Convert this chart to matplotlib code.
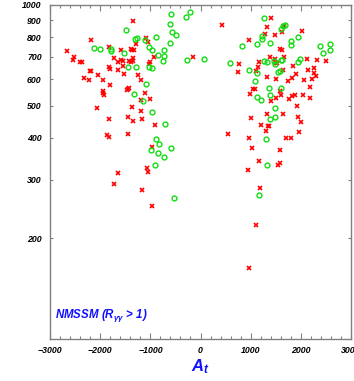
import matplotlib
matplotlib.use("Agg")
import matplotlib.pyplot as plt
from matplotlib.ticker import MultipleLocator, FixedLocator, NullLocator

plt.rcParams['font.family'] = ['Liberation Sans', 'DejaVu Sans']
plt.rcParams['mathtext.fontset'] = 'custom'
plt.rcParams['mathtext.rm'] = 'Liberation Sans:bold:italic'
plt.rcParams['mathtext.it'] = 'Liberation Sans:bold:italic'
plt.rcParams['mathtext.bf'] = 'Liberation Sans:bold:italic'

# red crosses: A_t, mass
red_at = [-2660, -2530, -2540, -2410, -2365, -2185, -2210, -2175, -2325, -2215,
          -2040, -1950, -1940, -1940, -1930, -2060, -1815, -1795, -1825, -1725,
          -1650, -1640, -1825, -1800, -1575, -1550, -1590, -1550, -1530, -1430,
          -1395, -1350, -1340, -1390, -1360, -1330, -1280, -1340, -1450, -1460,
          -1430, -1240, -1195, -1110, -1180, -1370, -1195, -1450, -1340, -1175,
          -1015, -915, -1080, -1050, -1010, -1020, -930, -155,
          -1870, -1825, -1440, -975, -1070, -1055, -1635, -1725, -1160, -970,
          430, 1415, 1330, 1290, 1495, 975, 1625, 1660, 2020, 1580,
          1625, 1395, 1490, 1500, 1530, 1660, 1160, 765, 745, 1140,
          1110, 1330, 1500, 1635, 1835, 1905, 2115, 2150, 2315, 2505,
          2270, 2265, 2305, 2215, 2060, 1815, 1740, 2185, 1055, 1090,
          995, 1575, 1610, 1500, 1760, 1825, 1885, 2050, 2185, 1410,
          1920, 1640, 1335, 1010, 1940, 2005, 1210, 1340, 1370, 1315,
          545, 975, 1705, 1805, 1965, 1030, 1590, 1170, 1575, 1540,
          950, 1190, 1100, 960]
red_m = [729, 701, 684, 674, 674, 786, 636, 636, 606, 598,
         619, 598, 553, 546, 538, 493, 456, 576, 750, 696,
         677, 641, 650, 643, 685, 682, 731, 657, 623, 682,
         676, 693, 679, 739, 734, 734, 763, 896, 560, 555,
         563, 619, 598, 547, 520, 496, 483, 463, 450, 455,
         523, 436, 795, 777, 677, 667, 699, 698,
         409, 402, 412, 377, 325, 316, 313, 292, 279, 250,
         869, 912, 858, 819, 812, 784, 830, 863, 836, 740,
         734, 698, 688, 669, 669, 698, 676, 665, 629, 652,
         636, 608, 600, 639, 657, 622, 689, 638, 685, 681,
         648, 627, 613, 601, 597, 605, 593, 569, 561, 560,
         542, 554, 539, 528, 523, 534, 538, 538, 526, 517,
         498, 471, 471, 458, 463, 445, 436, 434, 434, 419,
         411, 400, 400, 400, 417, 374, 369, 340, 336, 331,
         320, 284, 219, 163]

# green circles: A_t, mass
green_at = [-1495, -2130, -2010, -1785, -1775, -1515, -1455, -1290, -1310, -1275,
            -1110, -1030, -970, -890, -855, -735, -725, -755, -1020, -960,
            -610, -565, -485, -605, -580, -285, -200, -275, -1080, -1330,
            -1150, -960, -710, -890, -830, -980, -850, -580, -730, -900,
            -520,
            1270, 1610, 1680, 1640, 1235, 1235, 1950, 1130, 1380, 830,
            1795, 1805, 2375, 2575, 2590, 2445, 75, 580, 1260, 1330,
            1460, 1480, 1595, 1620, 1990, 1940, 975, 1135, 1550, 1575,
            1090, 1370, 1595, 1130, 1200, 1395, 1490, 1395, 1495, 1315,
            1320, 1175]
green_m = [840, 744, 739, 740, 729, 717, 653, 653, 791, 798,
           786, 749, 733, 800, 709, 733, 704, 682, 650, 647,
           768, 830, 815, 879, 940, 919, 951, 685, 582, 543,
           517, 477, 439, 396, 384, 368, 360, 373, 350, 332,
           264,
           914, 846, 869, 863, 810, 791, 802, 766, 771, 755,
           782, 757, 752, 763, 735, 717, 688, 669, 681, 674,
           679, 666, 686, 684, 691, 676, 641, 627, 630, 636,
           594, 565, 566, 532, 520, 536, 492, 456, 463, 396,
           331, 270]

y_ticks = [200, 300, 400, 500, 600, 700, 800, 900, 1000]

fig = plt.figure(figsize=(3.54, 3.81), dpi=100)
ax = fig.add_axes([50/354, 42/381, 301/354, 334/381])

ax.plot(red_at, red_m, linestyle='none', marker='x', color='#ff0000',
        markersize=3.0, markeredgewidth=1.2)
ax.plot(green_at, green_m, linestyle='none', marker='o', markerfacecolor='none',
        markeredgecolor='#11dd11', markersize=3.5, markeredgewidth=1.0)

ax.set_yscale('log')
ax.set_xlim(-3000, 3000)
ax.set_ylim(100, 1000)

ax.xaxis.set_major_locator(MultipleLocator(1000))
ax.xaxis.set_minor_locator(MultipleLocator(200))
ax.yaxis.set_major_locator(FixedLocator(y_ticks))
ax.yaxis.set_minor_locator(NullLocator())
ax.set_yticklabels([str(v) for v in y_ticks])

for s in ax.spines.values():
    s.set_color('#808080')
    s.set_linewidth(1.0)

ax.tick_params(axis='both', which='both', direction='in', colors='#808080',
               labelcolor='black', top=True, right=True, width=0.8)
ax.tick_params(axis='x', which='major', length=4.5, pad=5)
ax.tick_params(axis='x', which='minor', length=2.2)
ax.tick_params(axis='y', which='major', length=2.5, pad=6)

for lab in ax.get_xticklabels() + ax.get_yticklabels():
    lab.set_fontsize(6.3)
    lab.set_fontweight('bold')
    lab.set_fontstyle('italic')

ax.set_xlabel(r'$A_t$', fontsize=12, color='#1010ff', labelpad=2)
ax.text(0.017, 0.063, r'NMSSM (R$_{\gamma\gamma}$ > 1)', transform=ax.transAxes,
        fontsize=8.3, color='#1010ff', fontweight='bold', fontstyle='italic',
        va='baseline', ha='left')

fig.savefig('out.png', dpi=100)
